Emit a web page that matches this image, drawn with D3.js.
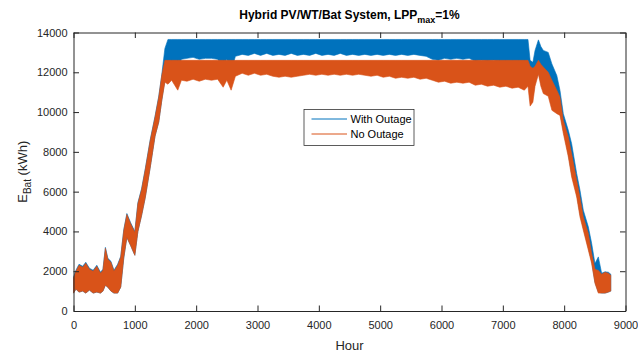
<!DOCTYPE html>
<html>
<head>
<meta charset="utf-8">
<script src="https://cdn.jsdelivr.net/npm/d3@7"></script>
<style>
  body { margin: 0; background: #fff; }
  svg { display: block; font-family: "Liberation Sans", Arial, sans-serif; }
</style>
</head>
<body>
<div id="chart"></div>
<script>
// hourly battery energy, read as low/high envelope of the daily swing
const hours = [0, 40, 90, 150, 200, 260, 320, 380, 440, 480, 520, 560, 610, 660, 720, 770, 820, 870, 930, 1000,
  1050, 1110, 1170, 1250, 1330, 1390, 1440, 1490, 1540, 1600, 1700, 1760, 1850, 1950, 2050, 2150, 2250, 2350, 2440,
  2500, 2570, 2640, 2750, 2850, 2950, 3050, 3150, 3250, 3350, 3450, 3550, 3650, 3750, 3850, 3950, 4050, 4150, 4250,
  4350, 4450, 4550, 4650, 4750, 4850, 4950, 5050, 5150, 5250, 5350, 5450, 5550, 5650, 5750, 5850, 5950, 6050, 6150,
  6250, 6350, 6450, 6550, 6650, 6750, 6850, 6950, 7050, 7150, 7250, 7350, 7410, 7445, 7490, 7525, 7580, 7620, 7660,
  7740, 7800, 7880, 7932, 7986, 8068, 8122, 8204, 8258, 8312, 8394, 8448, 8502, 8557, 8611, 8666, 8720, 8760];

const noOutageLow = [900, 1100, 950, 1000, 900, 1050, 900, 950, 900, 1000, 1300, 1200, 1000, 900, 900, 1200, 2700, 3700, 3300, 2800,
  4000, 4800, 5700, 7200, 8800, 9500, 10600, 11500, 11400, 11600, 11100, 11600, 11550, 11650, 11550, 11650, 11600, 11650, 11250,
  11600, 11100, 11800, 11950, 11850, 11950, 11850, 11900, 11800, 11750, 11800, 11750, 11800, 11850, 11900, 11850, 11900, 11850, 11900,
  11850, 11900, 11850, 11900, 11850, 11800, 11850, 11750, 11800, 11700, 11750, 11700, 11750, 11650, 11700, 11600, 11500, 11550, 11450,
  11500, 11450, 11500, 11350, 11400, 11300, 11350, 11250, 11300, 11200, 11250, 11100, 11300, 10300, 10500, 11300, 11900, 11300, 10930,
  10800, 10090, 9920, 9830, 8930, 7740, 6740, 5730, 4730, 4060, 3060, 2390, 1390, 900, 900, 900, 950, 1000];

const noOutageHigh = [1650, 2000, 2300, 2200, 2400, 2100, 2000, 2250, 1900, 2050, 3150, 2600, 2450, 2000, 2300, 2700, 4050, 4850, 4400, 3950,
  5400, 6100, 7100, 8550, 9750, 10750, 11850, 12600, 12600, 12600, 12600, 12600, 12600, 12600, 12600, 12600, 12600, 12600, 12600,
  12600, 12600, 12600, 12600, 12600, 12600, 12600, 12600, 12600, 12600, 12600, 12600, 12600, 12600, 12600, 12600, 12600, 12600, 12600,
  12600, 12600, 12600, 12600, 12600, 12600, 12600, 12600, 12600, 12600, 12600, 12600, 12600, 12600, 12600, 12600, 12600, 12600, 12600,
  12600, 12600, 12600, 12600, 12600, 12600, 12600, 12600, 12600, 12600, 12600, 12600, 12600, 12300, 12200, 12300, 12600, 12400, 12260,
  12000, 11600, 11100, 10750, 9580, 8750, 7900, 6570, 5700, 4730, 3900, 2900, 2100, 2040, 1850, 1950, 1900, 1800];

const withOutageLow = [900, 1100, 950, 1000, 900, 1050, 900, 950, 900, 1000, 1300, 1200, 1000, 900, 900, 1200, 2650, 3700, 3300, 2800,
  4000, 4800, 5700, 7200, 8800, 9500, 10600, 11600, 12200, 12400, 12100, 12650, 12700, 12750, 12650, 12700, 12700, 12650, 12300,
  12650, 12050, 12800, 12900, 12850, 12950, 12850, 12950, 12850, 12900, 12850, 12950, 12850, 12900, 12850, 12950, 12850, 12900, 12850,
  12950, 12850, 12900, 12850, 12900, 12850, 12900, 12850, 12900, 12850, 12900, 12850, 12900, 12850, 12800, 12650, 12600, 12700, 12650,
  12700, 12650, 12700, 12550, 12600, 12550, 12600, 12500, 12550, 12500, 12450, 12400, 12500, 10600, 10800, 11500, 12000, 11500, 11100,
  11000, 10300, 10100, 10000, 9100, 7900, 6900, 5900, 4900, 4200, 3200, 2500, 1450, 950, 900, 900, 950, 1000];

const withOutageHigh = [1700, 2050, 2350, 2250, 2450, 2150, 2050, 2300, 1950, 2100, 3200, 2650, 2500, 2050, 2350, 2750, 4100, 4900, 4450, 4000,
  5450, 6150, 7150, 8600, 9800, 10800, 11900, 13200, 13650, 13650, 13650, 13650, 13650, 13650, 13650, 13650, 13650, 13650, 13650,
  13650, 13650, 13650, 13650, 13650, 13650, 13650, 13650, 13650, 13650, 13650, 13650, 13650, 13650, 13650, 13650, 13650, 13650, 13650,
  13650, 13650, 13650, 13650, 13650, 13650, 13650, 13650, 13650, 13650, 13650, 13650, 13650, 13650, 13650, 13650, 13650, 13650, 13650,
  13650, 13650, 13650, 13650, 13650, 13650, 13650, 13650, 13650, 13650, 13650, 13650, 13650, 12600, 12500, 13100, 13630, 13300, 13100,
  13000, 12420, 11840, 11090, 9920, 9080, 8410, 6910, 6070, 5070, 4230, 3400, 2390, 2720, 1900, 1970, 1950, 1850];

const xTicks = [0, 1000, 2000, 3000, 4000, 5000, 6000, 7000, 8000, 9000];
const yTicks = [0, 2000, 4000, 6000, 8000, 10000, 12000, 14000];
const seriesNames = ["With Outage", "No Outage"];
const seriesColors = ["#0072BD", "#D95319"];

const W = 638, H = 356;
const margin = { top: 32.5, right: 12.5, bottom: 45, left: 73.5 };
const width = W - margin.left - margin.right;
const height = H - margin.top - margin.bottom;
const axisColor = "#262626";

const svg = d3.select("#chart")
  .append("svg")
  .attr("width", W)
  .attr("height", H);

const g = svg.append("g")
  .attr("transform", `translate(${margin.left}, ${margin.top})`);

const xScale = d3.scaleLinear().domain([0, 9000]).range([0, width]);
const yScale = d3.scaleLinear().domain([0, 14000]).range([height, 0]);

const bands = [
  { lo: withOutageLow, hi: withOutageHigh, color: seriesColors[0] },
  { lo: noOutageLow, hi: noOutageHigh, color: seriesColors[1] }
];

const area = d3.area()
  .x((d) => xScale(d.h))
  .y0((d) => yScale(d.lo))
  .y1((d) => yScale(d.hi));

bands.forEach((b) => {
  const rows = hours.map((h, i) => ({ h: h, lo: b.lo[i], hi: b.hi[i] }));
  g.append("path")
    .datum(rows)
    .attr("d", area)
    .attr("fill", b.color)
    .attr("stroke", b.color)
    .attr("stroke-width", 0.6);
});

// axes, ticks pointing inwards on all four sides
const tick = 5.5;
const fmt = d3.format("d");
const styleAxis = (sel) => {
  sel.selectAll(".domain").attr("stroke", axisColor).attr("stroke-width", 1);
  sel.selectAll(".tick line").attr("stroke", axisColor).attr("stroke-width", 1);
  sel.selectAll("text").attr("fill", axisColor).style("font-size", "11px")
    .style("font-family", '"Liberation Sans", Arial, sans-serif');
};

g.append("g")
  .attr("transform", `translate(0, ${height})`)
  .call(d3.axisBottom(xScale).tickValues(xTicks).tickFormat(fmt).tickSizeInner(-tick).tickSizeOuter(0).tickPadding(10))
  .call(styleAxis);

g.append("g")
  .call(d3.axisTop(xScale).tickValues(xTicks).tickSizeInner(-tick).tickSizeOuter(0).tickFormat(""))
  .call(styleAxis);

g.append("g")
  .call(d3.axisLeft(yScale).tickValues(yTicks).tickFormat(fmt).tickSizeInner(-tick).tickSizeOuter(0).tickPadding(6))
  .call(styleAxis);

g.append("g")
  .attr("transform", `translate(${width}, 0)`)
  .call(d3.axisRight(yScale).tickValues(yTicks).tickSizeInner(-tick).tickSizeOuter(0).tickFormat(""))
  .call(styleAxis);

// title
const title = svg.append("text")
  .attr("x", margin.left + width / 2)
  .attr("y", 19)
  .attr("text-anchor", "middle")
  .attr("fill", "#000")
  .style("font-size", "12px")
  .style("font-weight", "bold");
title.append("tspan").text("Hybrid PV/WT/Bat System, LPP");
title.append("tspan").attr("dy", 4).style("font-size", "9px").text("max");
title.append("tspan").attr("dy", -4).text("=1%");

// axis labels
svg.append("text")
  .attr("x", margin.left + width / 2)
  .attr("y", 350)
  .attr("text-anchor", "middle")
  .attr("fill", axisColor)
  .style("font-size", "13px")
  .text("Hour");

const yLab = svg.append("text")
  .attr("transform", `translate(27, ${margin.top + height / 2}) rotate(-90)`)
  .attr("text-anchor", "middle")
  .attr("fill", axisColor)
  .style("font-size", "13px");
yLab.append("tspan").text("E");
yLab.append("tspan").attr("dy", 4).style("font-size", "10px").text("Bat");
yLab.append("tspan").attr("dy", -4).text("  (kWh)");

// legend
const legend = svg.append("g").attr("transform", "translate(304, 109.5)");
legend.append("rect")
  .attr("width", 110)
  .attr("height", 36)
  .attr("fill", "#fff")
  .attr("stroke", axisColor)
  .attr("stroke-width", 0.75);

seriesNames.forEach((name, i) => {
  const y = 9.5 + i * 15;
  legend.append("line")
    .attr("x1", 7.5).attr("x2", 43)
    .attr("y1", y).attr("y2", y)
    .attr("stroke", seriesColors[i])
    .attr("stroke-width", 1);
  legend.append("text")
    .attr("x", 46.5)
    .attr("y", y)
    .attr("dy", "0.35em")
    .attr("fill", "#000")
    .style("font-size", "11px")
    .text(name);
});
</script>
</body>
</html>
